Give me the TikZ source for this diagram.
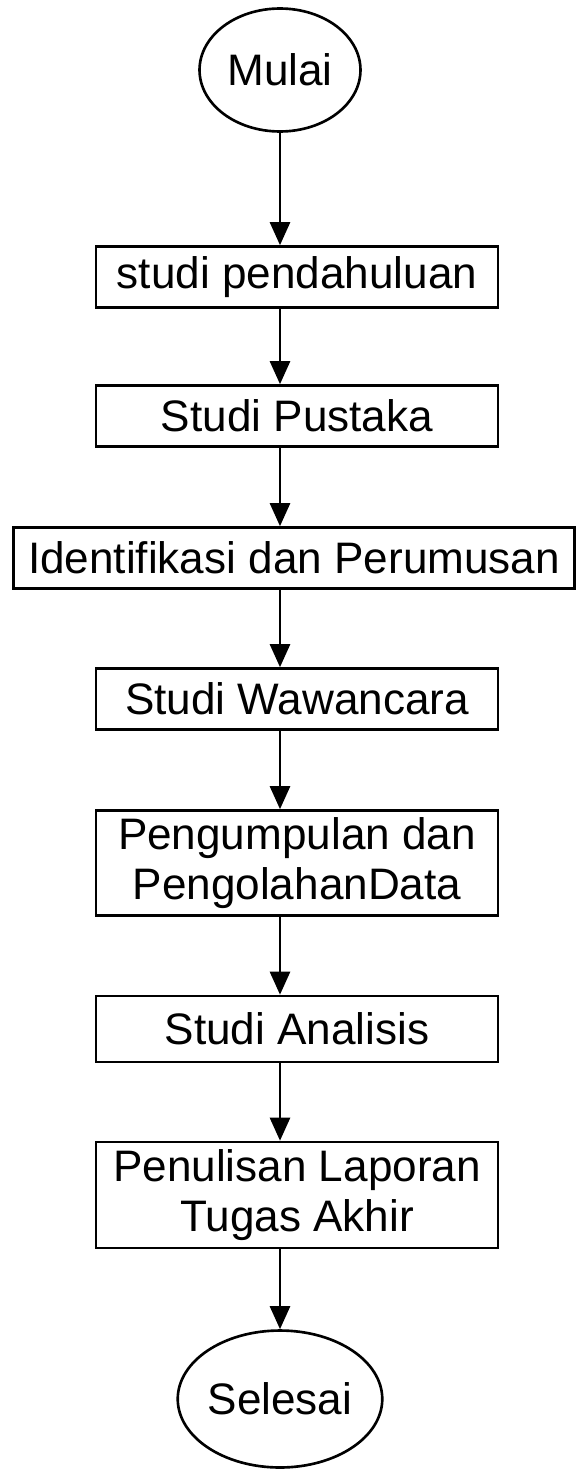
\documentclass[tikz,border=0pt]{standalone}
\usepackage{fontspec}
\setmainfont{Liberation Sans}
\usetikzlibrary{arrows.meta,shapes.geometric}

\begin{document}
\begin{tikzpicture}[
    x=0.02cm, y=-0.02cm,
    font=\fontsize{25.1}{28.5}\selectfont,
    box/.style={draw, line width=1.5pt, align=center, minimum width=8.04cm,
                minimum height=1.22cm, inner sep=2pt},
    tallbox/.style={box, minimum height=2.1cm},
    term/.style={draw, ellipse, line width=1.5pt, inner sep=0pt},
    arrow/.style={-{Triangle[length=0.46cm, width=0.4cm]}, line width=1.5pt}
]
  \useasboundingbox (0,0) rectangle (576,1470);

  \node[term, minimum width=3.22cm, minimum height=2.46cm] (mulai) at (280,70) {Mulai};
  \node[box] (pendahuluan) at (297,277) {studi pendahuluan};
  \node[box] (pustaka) at (297,416) {Studi Pustaka};
  \node[box, minimum width=11.22cm] (identifikasi) at (294,558) {Identifikasi dan Perumusan};
  \node[box] (wawancara) at (297,699) {Studi Wawancara};
  \node[tallbox] (pengumpulan) at (297,863) {Pengumpulan dan\\PengolahanData};
  \node[box, minimum height=1.32cm] (analisis) at (297,1029) {Studi Analisis};
  \node[tallbox, minimum height=2.12cm] (laporan) at (297,1195) {Penulisan Laporan\\Tugas Akhir};
  \node[term, minimum width=3.72cm, minimum height=2.74cm] (selesai) at (280,1399) {Selesai};

  \draw[arrow] (mulai) -- (pendahuluan.north -| mulai);
  \draw[arrow] (pendahuluan.south -| mulai) -- (pustaka.north -| mulai);
  \draw[arrow] (pustaka.south -| mulai) -- (identifikasi.north -| mulai);
  \draw[arrow] (identifikasi.south -| mulai) -- (wawancara.north -| mulai);
  \draw[arrow] (wawancara.south -| mulai) -- (pengumpulan.north -| mulai);
  \draw[arrow] (pengumpulan.south -| mulai) -- (analisis.north -| mulai);
  \draw[arrow] (analisis.south -| mulai) -- (laporan.north -| mulai);
  \draw[arrow] (laporan.south -| mulai) -- (selesai);
\end{tikzpicture}
\end{document}
